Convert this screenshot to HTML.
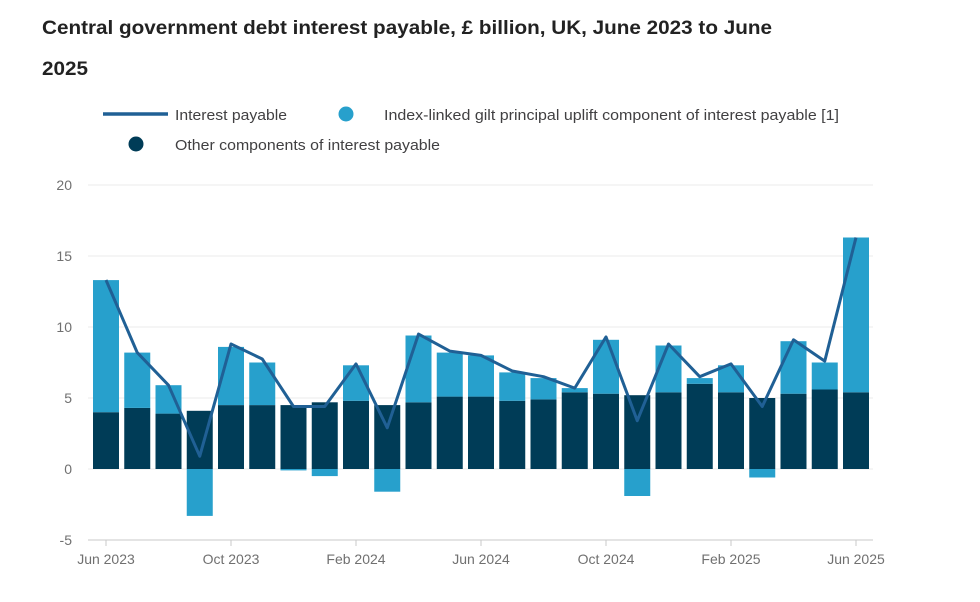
<!DOCTYPE html>
<html><head><meta charset="utf-8"><style>
body{margin:0;background:#fff;width:980px;height:597px;overflow:hidden;font-family:"Liberation Sans",sans-serif}
</style></head><body>
<svg width="980" height="597" xmlns="http://www.w3.org/2000/svg" font-family="Liberation Sans, sans-serif">
<text x="42" y="34" font-size="19.5" font-weight="bold" fill="#222" textLength="730" lengthAdjust="spacingAndGlyphs">Central government debt interest payable, £ billion, UK, June 2023 to June</text>
<text x="42" y="75" font-size="19.5" font-weight="bold" fill="#222" textLength="46" lengthAdjust="spacingAndGlyphs">2025</text>
<line x1="103" y1="114" x2="168" y2="114" stroke="#206095" stroke-width="3.5"/>
<text x="175" y="120" font-size="14.5" fill="#414042" textLength="112" lengthAdjust="spacingAndGlyphs">Interest payable</text>
<circle cx="346" cy="114" r="7.5" fill="#27a0cc"/>
<text x="384" y="120" font-size="14.5" fill="#414042" textLength="455" lengthAdjust="spacingAndGlyphs">Index-linked gilt principal uplift component of interest payable [1]</text>
<circle cx="136" cy="144" r="7.5" fill="#003c57"/>
<text x="175" y="150" font-size="14.5" fill="#414042" textLength="265" lengthAdjust="spacingAndGlyphs">Other components of interest payable</text>
<g stroke="#ebebeb" stroke-width="1">
<line x1="88" y1="185" x2="873" y2="185"/><line x1="88" y1="256" x2="873" y2="256"/><line x1="88" y1="327" x2="873" y2="327"/><line x1="88" y1="398" x2="873" y2="398"/><line x1="88" y1="469" x2="873" y2="469"/>
</g>
<g font-size="14" fill="#707070" text-anchor="end">
<text x="72" y="190">20</text><text x="72" y="261">15</text><text x="72" y="332">10</text><text x="72" y="403">5</text><text x="72" y="474">0</text><text x="72" y="545">-5</text>
</g>
<line x1="88" y1="540" x2="873" y2="540" stroke="#c8c8c8"/>
<g stroke="#c8c8c8"><line x1="106" y1="540" x2="106" y2="546"/><line x1="231" y1="540" x2="231" y2="546"/><line x1="356" y1="540" x2="356" y2="546"/><line x1="481" y1="540" x2="481" y2="546"/><line x1="606" y1="540" x2="606" y2="546"/><line x1="731" y1="540" x2="731" y2="546"/><line x1="856" y1="540" x2="856" y2="546"/></g>
<g font-size="14" fill="#707070" text-anchor="middle">
<text x="106" y="564">Jun 2023</text><text x="231" y="564">Oct 2023</text><text x="356" y="564">Feb 2024</text><text x="481" y="564">Jun 2024</text><text x="606" y="564">Oct 2024</text><text x="731" y="564">Feb 2025</text><text x="856" y="564">Jun 2025</text>
</g>
<g fill="#003c57">
<rect x="93" y="412.2" width="26" height="56.8"/>
<rect x="124.25" y="407.9" width="26" height="61.1"/>
<rect x="155.5" y="413.6" width="26" height="55.4"/>
<rect x="186.75" y="410.8" width="26" height="58.2"/>
<rect x="218" y="405.1" width="26" height="63.9"/>
<rect x="249.25" y="405.1" width="26" height="63.9"/>
<rect x="280.5" y="405.1" width="26" height="63.9"/>
<rect x="311.75" y="402.3" width="26" height="66.7"/>
<rect x="343" y="400.8" width="26" height="68.2"/>
<rect x="374.25" y="405.1" width="26" height="63.9"/>
<rect x="405.5" y="402.3" width="26" height="66.7"/>
<rect x="436.75" y="396.6" width="26" height="72.4"/>
<rect x="468" y="396.6" width="26" height="72.4"/>
<rect x="499.25" y="400.8" width="26" height="68.2"/>
<rect x="530.5" y="399.4" width="26" height="69.6"/>
<rect x="561.75" y="392.3" width="26" height="76.7"/>
<rect x="593" y="393.7" width="26" height="75.3"/>
<rect x="624.25" y="395.2" width="26" height="73.8"/>
<rect x="655.5" y="392.3" width="26" height="76.7"/>
<rect x="686.75" y="383.8" width="26" height="85.2"/>
<rect x="718" y="392.3" width="26" height="76.7"/>
<rect x="749.25" y="398" width="26" height="71"/>
<rect x="780.5" y="393.7" width="26" height="75.3"/>
<rect x="811.75" y="389.5" width="26" height="79.5"/>
<rect x="843" y="392.3" width="26" height="76.7"/>
</g>
<g fill="#27a0cc">
<rect x="93" y="280.1" width="26" height="132.1"/>
<rect x="124.25" y="352.6" width="26" height="55.3"/>
<rect x="155.5" y="385.2" width="26" height="28.4"/>
<rect x="186.75" y="469" width="26" height="46.9"/>
<rect x="218" y="346.9" width="26" height="58.2"/>
<rect x="249.25" y="362.5" width="26" height="42.6"/>
<rect x="280.5" y="469" width="26" height="1.4"/>
<rect x="311.75" y="469" width="26" height="7.1"/>
<rect x="343" y="365.3" width="26" height="35.5"/>
<rect x="374.25" y="469" width="26" height="22.7"/>
<rect x="405.5" y="335.5" width="26" height="66.8"/>
<rect x="436.75" y="352.6" width="26" height="44"/>
<rect x="468" y="355.4" width="26" height="41.2"/>
<rect x="499.25" y="372.4" width="26" height="28.4"/>
<rect x="530.5" y="378.1" width="26" height="21.3"/>
<rect x="561.75" y="388.1" width="26" height="4.2"/>
<rect x="593" y="339.8" width="26" height="53.9"/>
<rect x="624.25" y="469" width="26" height="27"/>
<rect x="655.5" y="345.5" width="26" height="46.8"/>
<rect x="686.75" y="378.1" width="26" height="5.7"/>
<rect x="718" y="365.3" width="26" height="27"/>
<rect x="749.25" y="469" width="26" height="8.5"/>
<rect x="780.5" y="341.2" width="26" height="52.5"/>
<rect x="811.75" y="362.5" width="26" height="27"/>
<rect x="843" y="237.5" width="26" height="154.8"/>
</g>
<polyline fill="none" stroke="#206095" stroke-width="3" stroke-linejoin="round" points="106,280 137.25,352.6 168.5,385.2 199.75,456.2 231,344 262.25,359 293.5,406.5 324.75,406.5 356,363.9 387.25,427.8 418.5,334.1 449.75,351.1 481,355.4 512.25,371 543.5,376.7 574.75,388.1 606,336.9 637.25,420.7 668.5,344 699.75,376.7 731,363.9 762.25,406.5 793.5,339.8 824.75,361.1 856,237.5"/>
</svg>
</body></html>
